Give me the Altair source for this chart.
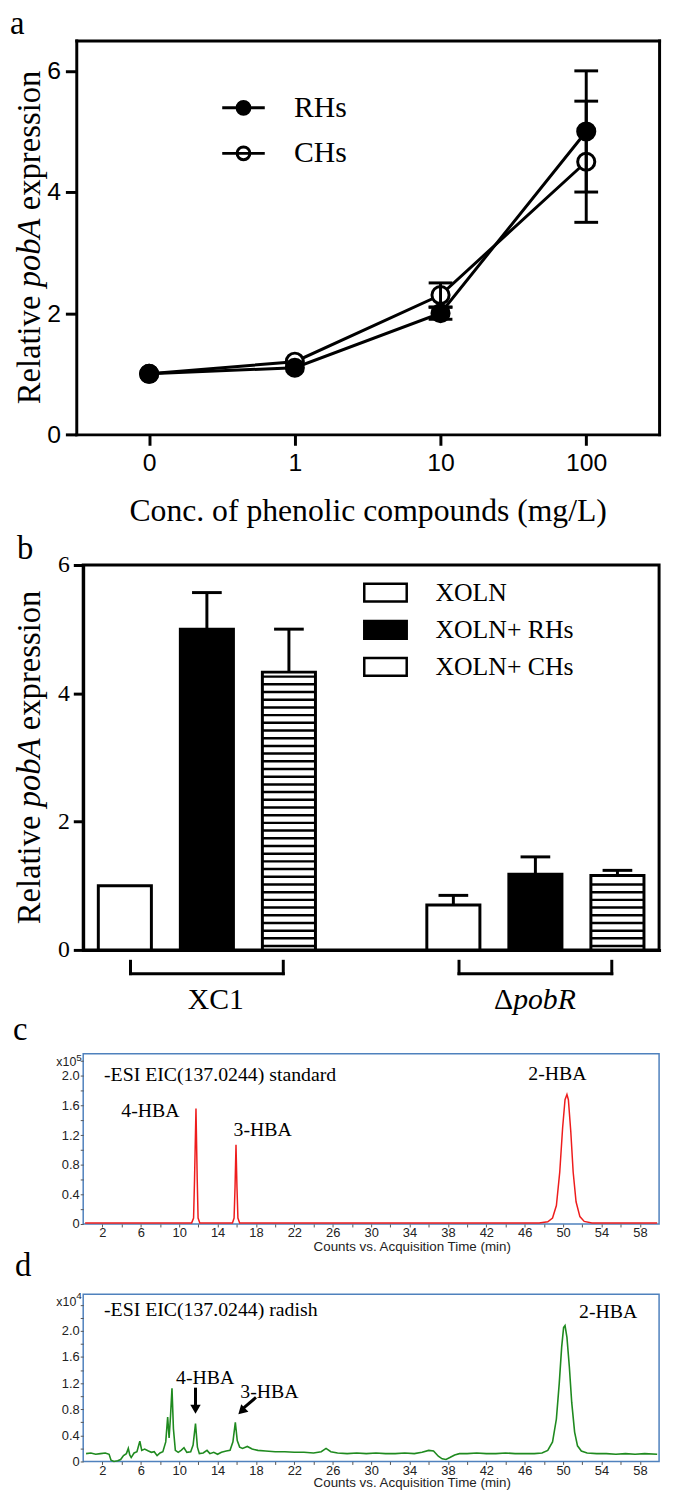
import altair as alt
import pandas as pd

SERIF = "Liberation Serif"
SANS = "Liberation Sans"

# ---------------- data ----------------
# panel a
conc_labels = ["0", "1", "10", "100"]
rhs_mean = [1.0, 1.1, 2.0, 5.0]
rhs_sem = [0.0, 0.0, 0.1, 1.0]
chs_mean = [1.0, 1.2, 2.3, 4.5]
chs_sem = [0.0, 0.0, 0.2, 1.0]

# panel b
strains = ["XC1", "pobR"]
treatments = ["XOLN", "XOLN+ RHs", "XOLN+ CHs"]
xc1_expr = [1.0, 5.0, 4.33]
xc1_sem = [0.0, 0.57, 0.67]
pobr_expr = [0.70, 1.18, 1.16]
pobr_sem = [0.15, 0.27, 0.08]

# panel c : standard, counts x10^5
std_time = [0.2, 11.3, 11.5, 11.6, 11.75, 11.88, 11.97, 12.15, 15.55, 15.72, 15.82,
            15.92, 16.02, 16.12, 16.3, 47.5, 48.4, 48.9, 49.3, 49.65, 49.95, 50.2,
            50.4, 50.55, 50.8, 51.05, 51.35, 51.75, 52.2, 53.0, 59.8]
std_counts = [0.015, 0.015, 0.08, 0.6, 1.56, 0.6, 0.08, 0.015, 0.015, 0.08, 0.5,
              1.07, 0.5, 0.08, 0.015, 0.015, 0.03, 0.08, 0.25, 0.7, 1.3, 1.68,
              1.75, 1.68, 1.25, 0.7, 0.3, 0.1, 0.035, 0.015, 0.015]

# panel d : radish, counts x10^4
rad_time = [0.3, 0.8, 1.3, 1.8, 2.3, 2.7, 2.9, 3.2, 3.6, 3.9, 4.2, 4.5, 4.7, 4.85, 5.0,
            5.3, 5.6, 5.9, 6.1, 6.4, 6.8, 7.1, 7.4, 7.7, 8.0, 8.3, 8.6, 8.8, 8.95, 9.1,
            9.25, 9.4, 9.6, 9.9, 10.2, 10.5, 10.8, 11.2, 11.45, 11.7, 11.9, 12.1, 12.5,
            12.9, 13.2, 13.6, 14.0, 14.4, 14.9, 15.3, 15.6, 15.85, 16.05, 16.3, 16.6,
            17.1, 17.6, 18.2, 19.0, 20.0, 21.0, 22.0, 23.0, 24.0, 24.8, 25.3, 25.8,
            26.5, 27.5, 28.5, 29.5, 30.5, 31.5, 32.5, 33.5, 34.5, 35.3, 36.0, 36.5,
            37.0, 37.4, 37.8, 38.2, 38.7, 39.2, 40.0, 41.0, 42.0, 43.0, 44.0, 45.0,
            46.0, 47.0, 47.8, 48.4, 48.9, 49.3, 49.6, 49.85, 50.05, 50.2, 50.4, 50.65,
            50.9, 51.2, 51.5, 51.9, 52.5, 53.5, 54.5, 55.5, 56.5, 57.5, 58.5, 59.8]
rad_counts = [0.12, 0.13, 0.11, 0.12, 0.13, 0.11, 0.02, 0.0, 0.01, 0.03, 0.09, 0.12, 0.2,
              0.1, 0.06, 0.13, 0.15, 0.31, 0.17, 0.19, 0.16, 0.14, 0.15, 0.09, 0.13, 0.15,
              0.3, 0.68, 0.36, 0.7, 1.12, 0.5, 0.17, 0.14, 0.17, 0.21, 0.14, 0.15, 0.25,
              0.58, 0.22, 0.12, 0.13, 0.17, 0.12, 0.14, 0.11, 0.14, 0.16, 0.17, 0.3, 0.6,
              0.32, 0.22, 0.2, 0.23, 0.19, 0.17, 0.16, 0.15, 0.15, 0.14, 0.14, 0.13, 0.15,
              0.2, 0.15, 0.13, 0.12, 0.13, 0.12, 0.13, 0.12, 0.12, 0.13, 0.12, 0.14, 0.17,
              0.16, 0.08, 0.04, 0.03, 0.06, 0.1, 0.12, 0.12, 0.13, 0.12, 0.12, 0.13, 0.12,
              0.12, 0.12, 0.13, 0.17, 0.3, 0.65, 1.2, 1.75, 2.05, 2.08, 1.9, 1.45, 0.9,
              0.45, 0.24, 0.16, 0.13, 0.12, 0.12, 0.11, 0.12, 0.11, 0.12, 0.11]

# annotations
c_peak_labels = ["4-HBA", "3-HBA", "2-HBA"]
c_peak_t = [7.0, 18.7, 49.4]
c_peak_v = [1.52, 1.27, 2.02]
d_peak_labels = ["4-HBA", "3-HBA", "2-HBA"]
d_peak_t = [12.7, 19.4, 54.7]
d_peak_v = [1.27, 1.07, 2.29]
arrow_t0 = [11.7, 18.0]
arrow_v0 = [1.13, 0.98]
arrow_t1 = [11.7, 16.57]
arrow_v1 = [0.86, 0.80]
arrow_head_t = [11.7, 16.5]
arrow_head_v = [0.80, 0.77]
arrow_head_ang = [0, 46]

W = 582
K = W / 588.0          # horizontal size factor for fixed pixel widths in panel b
BAR_W = round(W * 0.0922, 1)


def txt(text, x, y, size, font=SERIF, style="normal", align="left",
        baseline="alphabetic", angle=0, color="black"):
    return alt.Chart(pd.DataFrame({"t": [text]})).mark_text(
        text=text, font=font, fontSize=size, fontStyle=style, align=align,
        baseline=baseline, angle=angle, color=color
    ).encode(x=alt.value(x), y=alt.value(y))


def ytitle(xb, yc, fs=33):
    total = (3.333 + 0.25 + 2.111 + 0.25 + 4.277) * fs
    y0 = yc + total / 2
    return [
        txt("Relative", xb, y0, fs, angle=270),
        txt("pobA", xb, y0 - 3.583 * fs, fs, style="italic", angle=270),
        txt("expression", xb, y0 - 5.944 * fs, fs, angle=270),
    ]


def spacer(x, y1, y2):
    return alt.Chart(pd.DataFrame({"s": [0]})).mark_rule(opacity=0).encode(
        x=alt.value(x), y=alt.value(y1), y2=alt.value(y2))


# ---------------- panel a ----------------
HA = 398
rows = []
for lab, m, e in zip(conc_labels, chs_mean, chs_sem):
    rows.append(dict(conc=lab, series="CHs", mean=m, lo=m - e, hi=m + e, err=e))
for lab, m, e in zip(conc_labels, rhs_mean, rhs_sem):
    rows.append(dict(conc=lab, series="RHs", mean=m, lo=m - e, hi=m + e, err=e))
dfa = pd.DataFrame(rows)
dfa_err = dfa[dfa["err"] > 0]

xs_a = alt.Scale(type="point", domain=conc_labels, padding=0.5, range=[-7, W])
ys_a = alt.Scale(domain=[0, 6.5], nice=False)
blk = dict(domainColor="black", domainWidth=3, domainCap="square", grid=False,
           minExtent=0)
ax_a_bottom = alt.Axis(orient="bottom", labelAngle=0, labelFont=SANS, labelFontSize=25,
                       labelColor="black", labelPadding=6, tickSize=11, tickWidth=3,
                       tickColor="black", title="Conc. of phenolic compounds (mg/L)",
                       titleFont=SERIF, titleFontSize=32, titleFontWeight="normal",
                       titleColor="black", titlePadding=20, **blk)
ax_a_left = alt.Axis(orient="left", offset=7, values=[0, 2, 4, 6], labelFont=SANS,
                     labelFontSize=25, labelColor="black", labelPadding=5, tickSize=11,
                     tickWidth=3, tickColor="black", title=None, **blk)
ax_a_top = alt.Axis(orient="top", labels=False, ticks=False, title=None, **blk)
ax_a_right = alt.Axis(orient="right", labels=False, ticks=False, title=None, **blk)

PATH_A = "M-2.15,0H2.15M-0.65,0A0.65,0.65,0,1,0,0.65,0A0.65,0.65,0,1,0,-0.65,0Z"
leg_a = alt.Legend(orient="none", legendX=140, legendY=53, title=None, symbolType=PATH_A,
                   symbolSize=400, symbolStrokeWidth=3, symbolStrokeColor="black",
                   symbolOffset=7, labelOffset=36, labelFont=SERIF, labelFontSize=30,
                   labelColor="black", rowPadding=16, padding=0)

a_lines = alt.Chart(dfa).mark_line(color="black", strokeWidth=3).encode(
    x=alt.X("conc:N", scale=xs_a, axis=ax_a_bottom),
    y=alt.Y("mean:Q", scale=ys_a, axis=ax_a_left),
    detail="series:N")
a_pts = alt.Chart(dfa).mark_point(filled=True, size=300, stroke="black", strokeWidth=3,
                                  opacity=1).encode(
    x=alt.X("conc:N", scale=xs_a, axis=ax_a_top),
    y=alt.Y("mean:Q", scale=ys_a, axis=ax_a_right),
    fill=alt.Fill("series:N", scale=alt.Scale(domain=["RHs", "CHs"], range=["black", "white"]),
                  legend=leg_a))
a_err = alt.Chart(dfa_err).mark_rule(color="black", strokeWidth=3, opacity=1).encode(
    x=alt.X("conc:N", scale=xs_a, axis=None),
    y=alt.Y("lo:Q", scale=ys_a, axis=None), y2="hi:Q")
a_cap_hi = alt.Chart(dfa_err).mark_tick(color="black", thickness=3, size=24, opacity=1,
                                        orient="horizontal").encode(
    x=alt.X("conc:N", scale=xs_a, axis=None), y=alt.Y("hi:Q", scale=ys_a, axis=None))
a_cap_lo = alt.Chart(dfa_err).mark_tick(color="black", thickness=3, size=24, opacity=1,
                                        orient="horizontal").encode(
    x=alt.X("conc:N", scale=xs_a, axis=None), y=alt.Y("lo:Q", scale=ys_a, axis=None))

panel_a = alt.layer(
    a_lines, a_pts, a_err, a_cap_hi, a_cap_lo,
    *ytitle(-44, HA / 2),
    txt("a", -74, -7, 33),
    spacer(-74, -36, HA + 96),
).properties(width=W, height=HA, view=alt.ViewBackground(stroke="transparent")
             ).resolve_axis(x="independent", y="independent")

# ---------------- panel b ----------------
HB = 389
dfb = pd.DataFrame({"strain": ["XC1"] * 3 + ["pobR"] * 3, "treat": treatments * 2,
                    "val": xc1_expr + pobr_expr, "sem": xc1_sem + pobr_sem})
dfb["hi"] = dfb["val"] + dfb["sem"]
dfb_err = dfb[dfb["sem"] > 0]

# horizontal hatch texture of the "XOLN+ CHs" bars
hatch_rows = []
for s, t, v in zip(dfb["strain"], dfb["treat"], dfb["val"]):
    if t == "XOLN+ CHs":
        yy = 0.06
        while yy < v - 0.05:
            hatch_rows.append({"strain": s, "treat": t, "val": round(yy, 3)})
            yy += 0.12
dfh = pd.DataFrame(hatch_rows)

xs_b = alt.Scale(domain=strains, paddingInner=0.339, paddingOuter=0.046)
xo_b = alt.Scale(domain=treatments, paddingInner=0.353, paddingOuter=0)
ys_b = alt.Scale(domain=[0, 6], nice=False)
fill_b = alt.Scale(domain=treatments, range=["white", "black", "white"])
ax_b_x = alt.Axis(labels=False, ticks=False, title=None, **blk)
ax_b_y = alt.Axis(values=[0, 2, 4, 6], labelFont=SERIF, labelFontSize=24, labelColor="black",
                  labelPadding=4, tickSize=10, tickWidth=3, tickColor="black", title=None, **blk)

XB = alt.X("strain:N", scale=xs_b, axis=None)
XOB = alt.XOffset("treat:N", scale=xo_b)

RECT = "M-1.43,-0.6H1.43V0.6H-1.43Z"
LEG_BX, LEG_BY, LEG_ROW = 284, 11.5, 6.5
leg_b = alt.Legend(orient="none", legendX=LEG_BX, legendY=LEG_BY, title=None,
                   symbolType=RECT, symbolSize=900, symbolStrokeWidth=2.5,
                   symbolStrokeColor="black", symbolOffset=5, labelOffset=34,
                   labelFont=SERIF, labelFontSize=26, labelColor="black",
                   rowPadding=LEG_ROW, padding=0)

# legend carrier: symbols sit inside the bars (drawn first, covered by the bars)
b_leg = alt.Chart(dfb).transform_calculate(half="datum.val / 2").mark_point(
    filled=True, size=300, stroke="black", strokeWidth=2.5, opacity=1).encode(
    x=XB, xOffset=XOB, y=alt.Y("half:Q", scale=ys_b, axis=None),
    fill=alt.Fill("treat:N", scale=fill_b, legend=leg_b))
b_bars = alt.Chart(dfb).mark_bar(stroke="black", strokeWidth=3, opacity=1).encode(
    x=alt.X("strain:N", scale=xs_b, axis=ax_b_x), xOffset=XOB,
    y=alt.Y("val:Q", scale=ys_b, axis=ax_b_y),
    fill=alt.condition("datum.treat == 'XOLN+ RHs'", alt.value("black"), alt.value("white")))
b_hatch = alt.Chart(dfh).mark_tick(color="black", thickness=2.5, size=BAR_W, opacity=1,
                                   orient="horizontal").encode(
    x=XB, xOffset=XOB, y=alt.Y("val:Q", scale=ys_b, axis=None))
b_err = alt.Chart(dfb_err).mark_rule(color="black", strokeWidth=3, opacity=1).encode(
    x=XB, xOffset=XOB, y=alt.Y("val:Q", scale=ys_b, axis=None), y2="hi:Q")
b_cap = alt.Chart(dfb_err).mark_tick(color="black", thickness=3, size=30, opacity=1,
                                     orient="horizontal").encode(
    x=XB, xOffset=XOB, y=alt.Y("hi:Q", scale=ys_b, axis=None))
# hatch stroke inside the third legend swatch
leg_cx = LEG_BX + 16.5 + 5
leg_cy = LEG_BY + 2 * (29.5 + LEG_ROW) + 16.5
b_leg_hatch = alt.Chart(pd.DataFrame({"s": [0]})).mark_rule(
    color="black", strokeWidth=2.5, opacity=1).encode(
    x=alt.value(leg_cx - 21.5), x2=alt.value(leg_cx + 21.5), y=alt.value(leg_cy))

grp = pd.DataFrame({"strain": strains})
BR = round(78 * K, 1)
b_br_l = alt.Chart(grp).mark_rule(color="black", strokeWidth=3, xOffset=-BR, opacity=1).encode(
    x=XB, y=alt.value(399), y2=alt.value(414.5))
b_br_r = alt.Chart(grp).mark_rule(color="black", strokeWidth=3, xOffset=BR, opacity=1).encode(
    x=XB, y=alt.value(399), y2=alt.value(414.5))
b_br_h = alt.Chart(grp).mark_tick(color="black", thickness=3, size=2 * BR + 3, opacity=1,
                                  orient="horizontal").encode(x=XB, y=alt.value(413))

b_lab_xc1 = alt.Chart(pd.DataFrame({"strain": ["XC1"]})).mark_text(
    text="XC1", font=SERIF, fontSize=30, dx=9, align="center", baseline="alphabetic",
    color="black").encode(x=XB, y=alt.value(449))
b_lab_delta = alt.Chart(pd.DataFrame({"strain": ["pobR"]})).mark_text(
    text="Δ", font=SERIF, fontSize=30, dx=-22.5, align="right", baseline="alphabetic",
    color="black").encode(x=XB, y=alt.value(449))
b_lab_pobr = alt.Chart(pd.DataFrame({"strain": ["pobR"]})).mark_text(
    text="pobR", font=SERIF, fontSize=30, fontStyle="italic", dx=-22.5, align="left",
    baseline="alphabetic", color="black").encode(x=XB, y=alt.value(449))

panel_b = alt.layer(
    b_leg, b_bars, b_hatch, b_err, b_cap, b_leg_hatch, b_br_l, b_br_r, b_br_h,
    b_lab_xc1, b_lab_delta, b_lab_pobr,
    *ytitle(-44, HB / 2),
    txt("b", -67, -6, 33),
    txt("c", -71, 480, 33),
    spacer(-74, -33, 489),
).properties(width=W, height=HB, view=alt.ViewBackground(stroke="black", strokeWidth=3)
             ).resolve_axis(x="independent", y="independent")

# ---------------- panels c, d ----------------
FRAME = "#4f81bd"


def chrom_axes(ymax_tick, title_y):
    ax_x = alt.Axis(values=list(range(2, 60, 2)),
                    labelExpr="(datum.value - 2) % 4 == 0 ? datum.label : ''",
                    labelFont=SANS, labelFontSize=13, labelColor="#222", labelPadding=0,
                    labelOverlap=False, labelFlush=False, tickSize=3, tickColor="#555",
                    domain=False, grid=False, minExtent=0,
                    title="Counts vs. Acquisition Time (min)",
                    titleFont=SANS, titleFontSize=13.5, titleFontWeight="normal",
                    titleColor="#222", titleX=332, titleY=title_y, titleBaseline="middle")
    ax_y = alt.Axis(values=[round(0.2 * i, 1) for i in range(ymax_tick + 1)],
                    labelExpr="datum.value == 0 ? '0' : ((round(datum.value * 10) % 4 == 0 && datum.value <= 2.05) ? format(datum.value, '.1f') : '')",
                    labelFont=SANS, labelFontSize=13, labelColor="#222", labelPadding=1,
                    labelOverlap=False, tickSize=3, tickColor="#555", domain=False,
                    grid=False, title=None, minExtent=0)
    return ax_x, ax_y


HC = 172
xs_c = alt.Scale(domain=[0, 60], nice=False, zero=False)
ys_c = alt.Scale(domain=[0, 2.3], nice=False)
axcx, axcy = chrom_axes(11, 22.5)
dfc = pd.DataFrame({"t": std_time, "v": std_counts})
c_line = alt.Chart(dfc).mark_line(color="#ee1c1c", strokeWidth=1.5).encode(
    x=alt.X("t:Q", scale=xs_c, axis=axcx), y=alt.Y("v:Q", scale=ys_c, axis=axcy))
c_lab = alt.Chart(pd.DataFrame({"t": c_peak_t, "v": c_peak_v, "label": c_peak_labels})).mark_text(
    font=SERIF, fontSize=20, baseline="middle", align="center", color="black").encode(
    x=alt.X("t:Q", scale=xs_c, axis=None), y=alt.Y("v:Q", scale=ys_c, axis=None), text="label:N")

panel_c = alt.layer(
    c_line, c_lab,
    txt("-ESI EIC(137.0244) standard", 21, 21, 20, baseline="middle"),
    txt("x10", -7, 12, 12.5, font=SANS, align="right", color="#222"),
    txt("5", -7, 7, 10, font=SANS, align="left", color="#222"),
    txt("d", -69, 225, 33),
    spacer(-74, -2, 232),
).properties(width=W, height=HC, view=alt.ViewBackground(stroke=FRAME, strokeWidth=1.5)
             ).resolve_axis(x="independent", y="independent")

HD = 169
ys_d = alt.Scale(domain=[0, 2.56], nice=False)
axdx, axdy = chrom_axes(12, 21.5)
dfd = pd.DataFrame({"t": rad_time, "v": rad_counts})
d_line = alt.Chart(dfd).mark_line(color="#1f8a1f", strokeWidth=1.6).encode(
    x=alt.X("t:Q", scale=xs_c, axis=axdx), y=alt.Y("v:Q", scale=ys_d, axis=axdy))
d_lab = alt.Chart(pd.DataFrame({"t": d_peak_t, "v": d_peak_v, "label": d_peak_labels})).mark_text(
    font=SERIF, fontSize=20, baseline="middle", align="center", color="black").encode(
    x=alt.X("t:Q", scale=xs_c, axis=None), y=alt.Y("v:Q", scale=ys_d, axis=None), text="label:N")
d_shaft = alt.Chart(pd.DataFrame({"t0": arrow_t0, "v0": arrow_v0, "t1": arrow_t1,
                                  "v1": arrow_v1})).mark_rule(color="black", strokeWidth=3,
                                                              opacity=1).encode(
    x=alt.X("t0:Q", scale=xs_c, axis=None), y=alt.Y("v0:Q", scale=ys_d, axis=None),
    x2="t1:Q", y2="v1:Q")
d_head = alt.Chart(pd.DataFrame({"t": arrow_head_t, "v": arrow_head_v,
                                 "ang": arrow_head_ang})).mark_point(
    shape="triangle-down", filled=True, size=110, color="black", opacity=1).encode(
    x=alt.X("t:Q", scale=xs_c, axis=None), y=alt.Y("v:Q", scale=ys_d, axis=None),
    angle=alt.Angle("ang:Q", scale=None))

panel_d = alt.layer(
    d_line, d_lab, d_shaft, d_head,
    txt("-ESI EIC(137.0244) radish", 21, 16, 20, baseline="middle"),
    txt("x10", -7, 12, 12.5, font=SANS, align="right", color="#222"),
    txt("4", -7, 5, 10, font=SANS, align="left", color="#222"),
    spacer(-74, -9, HD),
).properties(width=W, height=HD, view=alt.ViewBackground(stroke=FRAME, strokeWidth=1.5)
             ).resolve_axis(x="independent", y="independent")

chart = alt.vconcat(panel_a, panel_b, panel_c, panel_d, spacing=0).resolve_scale(
    fill="independent"
).properties(
    padding={"left": 0, "top": -12, "right": 0, "bottom": 0}
).configure_view(stroke="transparent")

chart.save("out.html", embed_options={"renderer": "svg", "actions": False})
